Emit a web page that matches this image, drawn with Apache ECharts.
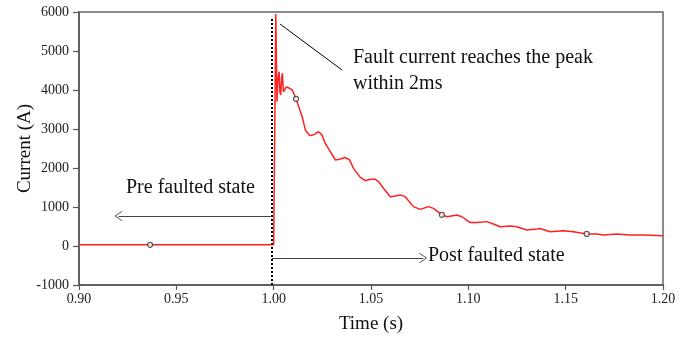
<!DOCTYPE html>
<html><head><meta charset="utf-8">
<script src="https://cdn.jsdelivr.net/npm/echarts@6/dist/echarts.min.js"></script>
<style>html,body{margin:0;padding:0;background:#fff}#c{width:695px;height:339px}</style>
</head><body><div id="c"></div>
<script>
const timeS = [0.9000,1.0000,1.0004,1.0011,1.0017,1.0021,1.0028,1.0032,1.0036,1.0041,1.0045,1.0050,1.0053,1.0065,1.0079,1.0096,1.0115,
1.0146,1.0163,1.0185,1.0205,1.0231,1.0248,1.0265,1.0291,1.0317,1.0342,1.0368,1.0390,1.0410,1.0445,1.0471,1.0496,1.0522,1.0539,1.0564,1.0599,1.0624,1.0650,1.0676,1.0718,1.0753,1.0795,1.0821,1.0864,1.0890,1.0941,1.0967,1.1009,1.1044,1.1095,1.1129,1.1163,1.1215,1.1249,1.1300,1.1352,1.1369,1.1420,1.1488,1.1540,1.1608,1.1660,1.1694,1.1762,1.1831,1.1899,1.2000];
const currentA = [30,30,40,5950,3700,4200,4470,3950,3870,4300,4430,3950,3920,4080,4050,4000,3770,
3320,2970,2830,2850,2930,2850,2630,2420,2205,2230,2270,2205,1990,1760,1675,1710,1710,1650,1480,1265,1280,1310,1265,1010,940,1010,965,800,750,795,750,600,600,625,565,495,510,495,410,435,450,365,390,365,310,310,280,310,280,280,265];
const markerTime = [0.9365,1.0115,1.0864,1.1608];
const markerCurrent = [30,3770,800,310];
const xTicks = {min:0.9,max:1.2,interval:0.05};
const yTicks = {min:-1000,max:6000,interval:1000};
const faultLineTime = 0.999;
const preArrow = {fromT:0.999, toT:0.9203, value:770};
const postArrow = {fromT:0.999, toT:1.0768, value:-310};
const leader = [[1.0033,5690],[1.0352,4510]];
const dashedTop = 5850;

const serif = '"Liberation Serif","DejaVu Serif",serif';
const openArrow = 'path://M0,0 L10,11 L9,12 L0,2 L-9,12 L-10,11 Z';
const chart = echarts.init(document.getElementById('c'));
chart.setOption({
  animation:false,
  grid:{left:79,right:32,top:12,bottom:54,show:true,borderColor:'#666',borderWidth:1.5},
  xAxis:{type:'value',min:xTicks.min,max:xTicks.max,interval:xTicks.interval,
    name:'Time (s)',nameLocation:'middle',nameGap:30,
    nameTextStyle:{fontFamily:serif,fontSize:19,color:'#111'},
    axisLine:{onZero:false,lineStyle:{color:'#555',width:1.5}},
    axisTick:{length:5,lineStyle:{color:'#555',width:1.2}},
    axisLabel:{fontFamily:serif,fontSize:14,color:'#222',margin:7,formatter:v=>v.toFixed(2)},
    splitLine:{show:false}},
  yAxis:{type:'value',min:yTicks.min,max:yTicks.max,interval:yTicks.interval,
    name:'Current (A)',nameLocation:'middle',nameGap:44,nameMoveOverlap:false,
    nameTextStyle:{fontFamily:serif,fontSize:19,color:'#111'},
    axisLine:{show:true,onZero:false,lineStyle:{color:'#555',width:1.5}},
    axisTick:{show:true,length:6,lineStyle:{color:'#555',width:1.2}},
    axisLabel:{fontFamily:serif,fontSize:14,color:'#222',margin:10,formatter:v=>String(v)},
    splitLine:{show:false}},
  series:[
    {type:'line',data:timeS.map((t,i)=>[t,currentA[i]]),showSymbol:false,
     lineStyle:{color:'#ff2020',width:1.5},itemStyle:{color:'#ff2020'},
     markLine:{silent:true,symbol:['none','none'],label:{show:false},animation:false,
       data:[
         [{coord:[faultLineTime,yTicks.min],lineStyle:{color:'#000',width:2,type:[2,2]}},{coord:[faultLineTime,dashedTop]}],
         [{coord:leader[0],lineStyle:{color:'#000',width:1,type:'solid'}},{coord:leader[1]}],
         [{coord:[preArrow.fromT,preArrow.value],symbol:'none',lineStyle:{color:'#444',width:1.2,type:'solid'}},{coord:[preArrow.toT,preArrow.value],symbol:openArrow,symbolSize:[10,8]}],
         [{coord:[postArrow.fromT,postArrow.value],symbol:'none',lineStyle:{color:'#444',width:1.2,type:'solid'}},{coord:[postArrow.toT,postArrow.value],symbol:openArrow,symbolSize:[10,8]}]
       ]}},
    {type:'scatter',data:markerTime.map((t,i)=>[t,markerCurrent[i]]),symbol:'circle',symbolSize:5,
     itemStyle:{color:'#fff',borderColor:'#333',borderWidth:1.2},z:5}
  ],
  graphic:[
    {type:'text',left:353,top:45,style:{text:'Fault current reaches the peak\nwithin 2ms',font:'20px '+serif,fill:'#111',lineHeight:26}},
    {type:'text',left:126,top:178,style:{text:'Pre faulted state',font:'20px '+serif,fill:'#111'}},
    {type:'text',left:428,top:246,style:{text:'Post faulted state',font:'20px '+serif,fill:'#111'}}
  ]
});
</script></body></html>
